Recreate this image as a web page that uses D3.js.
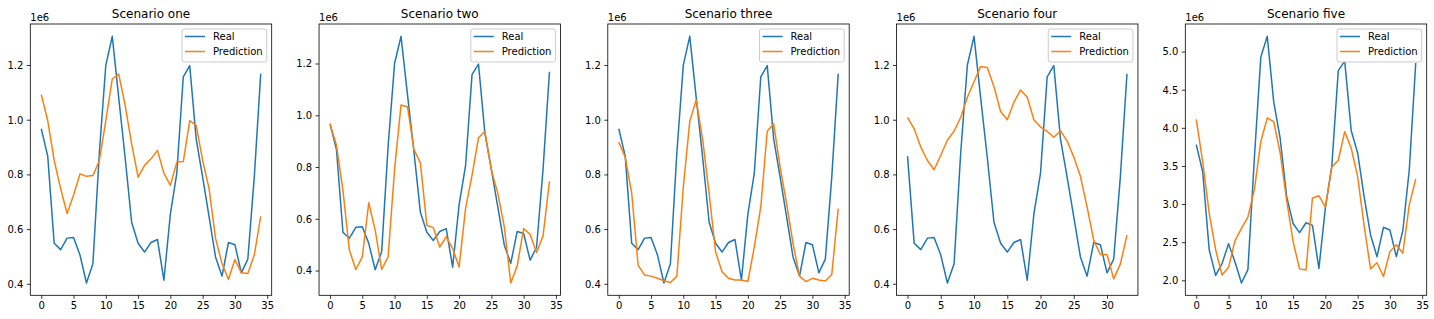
<!DOCTYPE html>
<html><head><meta charset="utf-8">
<script src="https://cdn.jsdelivr.net/npm/d3@7"></script>
<style>
html,body{margin:0;padding:0;background:#fff;}
svg{display:block;font-family:"DejaVu Sans",sans-serif;}
</style></head><body>
<svg id="chart" width="1434" height="319"></svg>
<script>
// ---- data (values in units of 1e6) ----
const titles = ["Scenario one", "Scenario two", "Scenario three", "Scenario four", "Scenario five"];
const seriesNames = ["Real", "Prediction"];
const offsetLabel = "1e6";

const realOne = [0.967, 0.867, 0.548, 0.525, 0.567, 0.569, 0.505, 0.403, 0.473, 0.88, 1.2, 1.305, 1.08, 0.86, 0.625, 0.548, 0.516, 0.551, 0.562, 0.413, 0.655, 0.805, 1.157, 1.198, 0.93, 0.79, 0.645, 0.498, 0.428, 0.551, 0.543, 0.44, 0.49, 0.79, 1.168];
const predOne = [1.092, 0.997, 0.851, 0.748, 0.657, 0.724, 0.802, 0.793, 0.796, 0.851, 0.997, 1.149, 1.167, 1.052, 0.912, 0.79, 0.833, 0.857, 0.888, 0.805, 0.76, 0.845, 0.847, 0.997, 0.979, 0.851, 0.748, 0.566, 0.474, 0.416, 0.489, 0.44, 0.438, 0.505, 0.647];

const realTwo = [0.967, 0.867, 0.548, 0.525, 0.567, 0.569, 0.505, 0.403, 0.473, 0.88, 1.2, 1.305, 1.08, 0.86, 0.625, 0.548, 0.516, 0.551, 0.562, 0.413, 0.655, 0.805, 1.157, 1.198, 0.93, 0.79, 0.645, 0.498, 0.428, 0.551, 0.543, 0.44, 0.49, 0.79, 1.168];
const predTwo = [0.966, 0.884, 0.71, 0.479, 0.404, 0.453, 0.662, 0.556, 0.404, 0.453, 0.79, 1.04, 1.033, 0.868, 0.816, 0.575, 0.566, 0.491, 0.53, 0.485, 0.414, 0.64, 0.768, 0.913, 0.938, 0.788, 0.698, 0.569, 0.352, 0.418, 0.562, 0.539, 0.47, 0.534, 0.745];

const realThree = [0.967, 0.867, 0.548, 0.525, 0.567, 0.569, 0.505, 0.403, 0.473, 0.88, 1.2, 1.305, 1.08, 0.86, 0.625, 0.548, 0.516, 0.551, 0.562, 0.413, 0.655, 0.805, 1.157, 1.198, 0.93, 0.79, 0.645, 0.498, 0.428, 0.551, 0.543, 0.44, 0.49, 0.79, 1.168];
const predThree = [0.918, 0.863, 0.732, 0.468, 0.432, 0.428, 0.42, 0.411, 0.405, 0.428, 0.754, 0.994, 1.072, 0.926, 0.73, 0.517, 0.444, 0.42, 0.414, 0.414, 0.408, 0.535, 0.681, 0.958, 0.985, 0.827, 0.693, 0.547, 0.428, 0.408, 0.42, 0.414, 0.41, 0.434, 0.675];

const realFour = [0.867, 0.548, 0.525, 0.567, 0.569, 0.505, 0.403, 0.473, 0.88, 1.2, 1.305, 1.08, 0.86, 0.625, 0.548, 0.516, 0.551, 0.562, 0.413, 0.655, 0.805, 1.157, 1.198, 0.93, 0.79, 0.645, 0.498, 0.428, 0.551, 0.543, 0.44, 0.49, 0.79, 1.168];
const predFour = [1.009, 0.967, 0.9, 0.851, 0.817, 0.87, 0.926, 0.958, 1.009, 1.082, 1.139, 1.195, 1.191, 1.121, 1.03, 1.0, 1.064, 1.109, 1.082, 1.0, 0.973, 0.957, 0.936, 0.96, 0.922, 0.864, 0.793, 0.681, 0.559, 0.507, 0.507, 0.418, 0.472, 0.578];

const realFive = [3.78, 3.42, 2.40, 2.065, 2.22, 2.48, 2.24, 1.965, 2.14, 3.6, 4.93, 5.20, 4.34, 3.86, 3.1, 2.745, 2.625, 2.755, 2.72, 2.155, 2.95, 3.5, 4.75, 4.875, 3.965, 3.67, 3.1, 2.595, 2.31, 2.695, 2.66, 2.31, 2.65, 3.45, 4.85];
const predFive = [4.11, 3.55, 2.88, 2.40, 2.07, 2.17, 2.52, 2.68, 2.83, 3.19, 3.82, 4.13, 4.08, 3.67, 3.05, 2.51, 2.15, 2.135, 3.08, 3.11, 2.96, 3.485, 3.575, 3.95, 3.735, 3.36, 2.72, 2.15, 2.23, 2.05, 2.375, 2.465, 2.355, 2.99, 3.33];

const xTicksMain = [0, 5, 10, 15, 20, 25, 30, 35];
const xTicksFour = [0, 5, 10, 15, 20, 25, 30];
const yTicksMain = [0.4, 0.6, 0.8, 1.0, 1.2];
const yTicksFive = [2.0, 2.5, 3.0, 3.5, 4.0, 4.5, 5.0];

const panels = [
  {title: titles[0], real: realOne, pred: predOne, xTicks: xTicksMain, yTicks: yTicksMain},
  {title: titles[1], real: realTwo, pred: predTwo, xTicks: xTicksMain, yTicks: yTicksMain},
  {title: titles[2], real: realThree, pred: predThree, xTicks: xTicksMain, yTicks: yTicksMain},
  {title: titles[3], real: realFour, pred: predFour, xTicks: xTicksFour, yTicks: yTicksMain},
  {title: titles[4], real: realFive, pred: predFive, xTicks: xTicksMain, yTicks: yTicksFive}
];

// ---- layout ----
const colors = ["#1f77b4", "#ff7f0e"];
const axLeft0 = 30.3, axStep = 288.75, axW = 241.4, axTop = 24, axH = 271.3;
const svg = d3.select("#chart");
const FONT = '"DejaVu Sans", sans-serif';

panels.forEach((p, k) => {
  const x0 = axLeft0 + k * axStep;
  const g = svg.append("g").attr("transform", `translate(${x0},${axTop})`);
  const n = p.real.length;
  const xs = d3.scaleLinear().domain([-(n - 1) * 0.05, (n - 1) * 1.05]).range([0, axW]);
  const [mn, mx] = d3.extent(p.real.concat(p.pred));
  const pad = (mx - mn) * 0.05;
  const ys = d3.scaleLinear().domain([mn - pad, mx + pad]).range([axH, 0]);

  const clipId = "clip" + k;
  g.append("clipPath").attr("id", clipId).append("rect")
    .attr("width", axW).attr("height", axH);

  const line = d3.line().x((d, i) => xs(i)).y(d => ys(d));
  [p.real, p.pred].forEach((s, j) => {
    g.append("path").datum(s)
      .attr("clip-path", `url(#${clipId})`)
      .attr("fill", "none").attr("stroke", colors[j])
      .attr("stroke-width", 1.5).attr("stroke-linejoin", "round")
      .attr("d", line);
  });

  // axes
  const xa = g.append("g").attr("transform", `translate(0,${axH})`)
    .call(d3.axisBottom(xs).tickValues(p.xTicks).tickSize(3.5).tickPadding(3.5).tickFormat(d3.format("d")));
  const ya = g.append("g")
    .call(d3.axisLeft(ys).tickValues(p.yTicks).tickSize(3.5).tickPadding(3.5).tickFormat(d3.format(".1f")));
  [xa, ya].forEach(a => {
    a.attr("font-family", FONT).attr("font-size", 10);
    a.select(".domain").remove();
    a.selectAll(".tick line").attr("stroke", "#000").attr("stroke-width", 0.8);
    a.selectAll(".tick text").attr("fill", "#000");
  });
  ya.selectAll(".tick text").attr("dy", "0.34em");

  // spines
  g.append("rect").attr("width", axW).attr("height", axH)
    .attr("fill", "none").attr("stroke", "#000").attr("stroke-width", 0.8);

  // title and offset text
  svg.append("text").attr("x", x0 + axW / 2).attr("y", 17.5)
    .attr("text-anchor", "middle").attr("font-family", FONT).attr("font-size", 12)
    .attr("fill", "#000").text(p.title);
  svg.append("text").attr("x", x0).attr("y", 20.5)
    .attr("font-family", FONT).attr("font-size", 10).attr("fill", "#000").text(offsetLabel);

  // legend
  const lg = g.append("g");
  const rowY = [7.5, 22.5];
  const texts = seriesNames.map((name, j) =>
    lg.append("text").attr("x", 31).attr("y", rowY[j] + 3.6)
      .attr("font-family", FONT).attr("font-size", 10).attr("fill", "#000").text(name));
  const tw = d3.max(texts, t => t.node().getComputedTextLength());
  const boxW = 31 + tw + 4, boxH = 33;
  lg.insert("rect", ":first-child").attr("width", boxW).attr("height", boxH)
    .attr("rx", 2).attr("ry", 2)
    .attr("fill", "#fff").attr("fill-opacity", 0.8)
    .attr("stroke", "#cccccc").attr("stroke-width", 1);
  seriesNames.forEach((name, j) => {
    lg.append("line").attr("x1", 3).attr("x2", 23).attr("y1", rowY[j]).attr("y2", rowY[j])
      .attr("stroke", colors[j]).attr("stroke-width", 1.5);
  });
  lg.attr("transform", `translate(${axW - 5 - boxW},5)`);
});
</script>
</body></html>
